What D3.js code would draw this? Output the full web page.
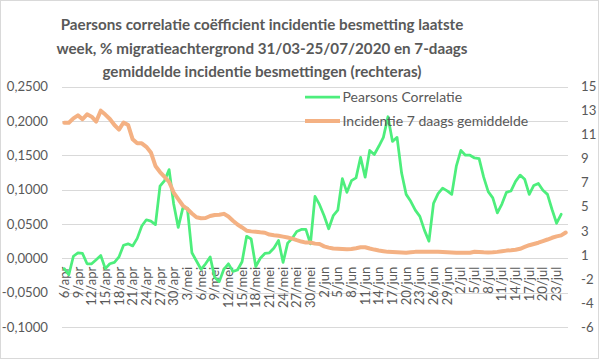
<!DOCTYPE html>
<html><head><meta charset="utf-8">
<script src="https://cdn.jsdelivr.net/npm/d3@7"></script>
<style>
html,body{margin:0;padding:0;background:#fff;}
svg{display:block;font-family:Lato,"Open Sans",sans-serif;}
</style></head>
<body><svg id="c" width="599" height="359"></svg>
<script>
const titleLines = [
  "Paersons correlatie  coëfficient incidentie  besmetting laatste",
  "week, % migratieachtergrond  31/03-25/07/2020  en 7-daags",
  "gemiddelde incidentie besmettingen (rechteras)"
];
const categories = [
 "6/apr","7/apr","8/apr","9/apr","10/apr","11/apr","12/apr","13/apr","14/apr","15/apr","16/apr","17/apr","18/apr","19/apr","20/apr","21/apr","22/apr","23/apr","24/apr","25/apr","26/apr","27/apr","28/apr","29/apr","30/apr",
 "1/mei","2/mei","3/mei","4/mei","5/mei","6/mei","7/mei","8/mei","9/mei","10/mei","11/mei","12/mei","13/mei","14/mei","15/mei","16/mei","17/mei","18/mei","19/mei","20/mei","21/mei","22/mei","23/mei","24/mei","25/mei","26/mei","27/mei","28/mei","29/mei","30/mei","31/mei",
 "1/jun","2/jun","3/jun","4/jun","5/jun","6/jun","7/jun","8/jun","9/jun","10/jun","11/jun","12/jun","13/jun","14/jun","15/jun","16/jun","17/jun","18/jun","19/jun","20/jun","21/jun","22/jun","23/jun","24/jun","25/jun","26/jun","27/jun","28/jun","29/jun","30/jun",
 "1/jul","2/jul","3/jul","4/jul","5/jul","6/jul","7/jul","8/jul","9/jul","10/jul","11/jul","12/jul","13/jul","14/jul","15/jul","16/jul","17/jul","18/jul","19/jul","20/jul","21/jul","22/jul","23/jul","24/jul","25/jul"
];
const pearsonsCorrelatie = [
 -0.015,-0.024,0.003,0.008,0.007,-0.008,-0.008,-0.002,0.004,-0.015,
 -0.008,-0.006,0.002,0.019,0.021,0.018,0.029,0.047,0.056,0.054,
 0.049,0.105,0.113,0.129,0.079,0.045,0.073,0.073,0.008,-0.004,
 -0.016,-0.008,0.002,-0.028,-0.034,-0.016,-0.008,-0.019,-0.017,-0.005,
 0.032,0.028,-0.012,0.000,0.007,0.008,0.015,0.026,-0.006,0.022,
 0.029,0.039,0.042,0.042,0.021,0.090,0.078,0.062,0.043,0.062,
 0.070,0.116,0.096,0.113,0.117,0.147,0.118,0.157,0.151,0.163,
 0.176,0.206,0.170,0.176,0.124,0.093,0.083,0.070,0.061,0.041,
 0.025,0.080,0.094,0.102,0.098,0.093,0.134,0.157,0.150,0.150,
 0.146,0.145,0.118,0.097,0.088,0.066,0.079,0.096,0.098,0.112,
 0.121,0.115,0.093,0.106,0.109,0.099,0.093,0.071,0.051,0.064,
 null
];
const incidentie7Daags = [
 11.84,11.84,12.22,12.48,12.14,12.57,12.36,11.94,12.89,12.55,
 12.16,11.64,11.24,11.86,11.64,10.39,10.04,10.04,9.73,9.24,
 8.06,7.53,7.10,6.66,5.74,5.17,4.61,4.30,3.91,3.58,
 3.49,3.52,3.69,3.78,3.80,3.88,3.65,3.28,2.95,2.69,
 2.41,2.35,2.32,2.27,2.23,2.07,2.01,1.96,1.89,1.81,
 1.72,1.58,1.46,1.37,1.38,1.28,1.24,1.04,0.93,0.85,
 0.83,0.81,0.79,0.81,0.88,0.96,0.96,0.85,0.76,0.68,
 0.62,0.56,0.54,0.52,0.50,0.48,0.52,0.56,0.57,0.57,
 0.57,0.57,0.56,0.54,0.52,0.50,0.48,0.48,0.48,0.49,
 0.57,0.55,0.52,0.50,0.52,0.56,0.62,0.67,0.70,0.74,
 0.83,0.99,1.14,1.25,1.36,1.50,1.64,1.79,1.91,2.00,2.25
];
const leftTicks = [-0.1,-0.05,0,0.05,0.1,0.15,0.2,0.25];
const rightTickLabels = ["15","13","11","9","7","5","3","1","-2","-4","-6"];
const seriesNames = ["Pearsons Correlatie","Incidentie 7 daags gemiddelde"];
const colors = ["#4DEE7C","#F4B183"];

const svg = d3.select("#c");
const W = 599, H = 359;
const plot = {left:62, right:568, top:86.5, bottom:327};
const textColor = "#595959", gridColor = "#D9D9D9";

svg.append("rect").attr("x",0.5).attr("y",0.5).attr("width",W-1).attr("height",H-1)
  .attr("fill","#fff").attr("stroke",gridColor);

const x = d3.scaleBand().domain(categories).range([plot.left, plot.right]).padding(0);
const xc = d => x(d) + x.bandwidth()/2;
const yL = d3.scaleLinear().domain([-0.1,0.25]).range([plot.bottom, plot.top]);
const yR = d3.scaleLinear().domain([-6,15]).range([plot.bottom, plot.top]);

// title
const title = svg.append("text").attr("text-anchor","middle").attr("fill",textColor)
  .attr("font-weight","bold").attr("font-size",15.2);
titleLines.forEach((t,i)=>{
  title.append("tspan").attr("x",262).attr("y",30 + i*23.6).text(t);
});

// gridlines
svg.append("g").selectAll("line").data(leftTicks).join("line")
  .attr("x1",plot.left).attr("x2",plot.right)
  .attr("y1",d=>Math.round(yL(d))+0.5).attr("y2",d=>Math.round(yL(d))+0.5)
  .attr("stroke",gridColor).attr("stroke-width",1);

// left axis
const locale = d3.formatLocale({decimal:",", thousands:".", grouping:[3], currency:["€",""], minus:"-"});
const fmt = locale.format(".4f");
const axL = d3.axisLeft(yL).tickValues(leftTicks).tickFormat(fmt).tickSize(0).tickPadding(0);
const gL = svg.append("g").attr("transform",`translate(48,0)`).call(axL);
gL.select(".domain").remove();
gL.selectAll("text").attr("fill",textColor).attr("font-size",13.2).attr("font-family","Lato, sans-serif");

// right axis
const rightVals = rightTickLabels.map((_,k)=>15 - 21*k/(rightTickLabels.length-1));
const axR = d3.axisRight(yR).tickValues(rightVals).tickFormat((d,i)=>rightTickLabels[i]).tickSize(0).tickPadding(0);
const gR = svg.append("g").attr("transform",`translate(581,0)`).call(axR);
gR.select(".domain").remove();
gR.selectAll("text").attr("fill",textColor).attr("font-size",13.2).attr("font-family","Lato, sans-serif");

// x axis labels (every 3rd category)
const shown = categories.filter((c,i)=>i%3===0);
const axX = d3.axisBottom(x).tickValues(shown).tickSize(0).tickPadding(0);
const gX = svg.append("g").attr("transform",`translate(0,${yL(0)})`).call(axX);
gX.select(".domain").remove();
gX.selectAll("text")
  .attr("fill",textColor).attr("font-size",13).attr("font-family","Lato, sans-serif")
  .attr("text-anchor","end").attr("dy","0.35em")
  .attr("transform","translate(0,8.5) rotate(-90)")
  .attr("x",0).attr("y",0);

// lines
const lineG = d3.line().defined(d=>d.v!=null).x(d=>xc(d.c)).y(d=>yL(d.v));
svg.append("path").datum(categories.map((c,i)=>({c, v:pearsonsCorrelatie[i]})))
  .attr("d",lineG).attr("fill","none").attr("stroke",colors[0]).attr("stroke-width",2.75)
  .attr("stroke-linejoin","round").attr("stroke-linecap","round");
const lineO = d3.line().x(d=>xc(d.c)).y(d=>yR(d.v));
svg.append("path").datum(categories.map((c,i)=>({c, v:incidentie7Daags[i]})))
  .attr("d",lineO).attr("fill","none").attr("stroke",colors[1]).attr("stroke-width",4)
  .attr("stroke-linejoin","round").attr("stroke-linecap","round");

// legend
const lg = svg.append("g");
seriesNames.forEach((n,i)=>{
  const yy = 97 + i*24;
  lg.append("line").attr("x1",305).attr("x2",340).attr("y1",yy).attr("y2",yy)
    .attr("stroke",colors[i]).attr("stroke-width",i===0?2.75:4);
  lg.append("text").attr("x",342.5).attr("y",yy).attr("dy","0.35em")
    .attr("fill",textColor).attr("font-size",14).text(n);
});
</script></body></html>
